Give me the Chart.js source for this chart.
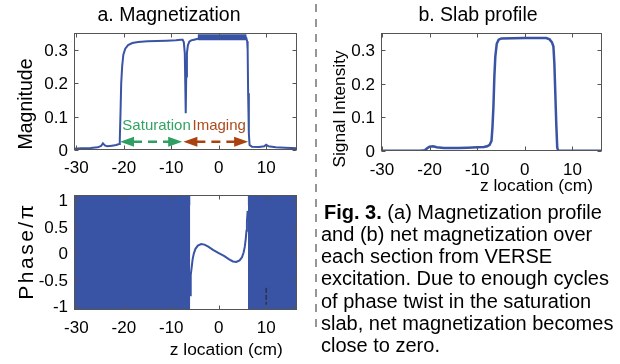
<!DOCTYPE html>
<html><head><meta charset="utf-8">
<script src="https://cdn.jsdelivr.net/npm/chart.js@4.4.0/dist/chart.umd.min.js"></script>
<style>
html,body{margin:0;padding:0;background:#fff;}
#wrap{position:relative;width:620px;height:364px;overflow:hidden;font-family:"Liberation Sans",Arial,Helvetica,sans-serif;color:#000;}
canvas{position:absolute;left:0;top:0;}
svg{position:absolute;left:0;top:0;}
.t{position:absolute;white-space:nowrap;line-height:1;}
.c{transform:translateX(-50%);}
.r{transform:translate(-50%,-50%) rotate(-90deg);}
#cap{position:absolute;left:321px;top:200.8px;font-size:20px;line-height:22.2px;white-space:nowrap;}
</style></head><body><div id="wrap">
<canvas id="cA" width="620" height="364"></canvas>
<canvas id="cP" width="620" height="364"></canvas>
<canvas id="cB" width="620" height="364"></canvas>
<svg width="620" height="364"><line x1="316" y1="4" x2="316" y2="334" stroke="#505050" stroke-width="1.2" stroke-dasharray="8 7"/></svg>
<div class="t c" style="left:169px;top:4.5px;font-size:19.5px;">a. Magnetization</div>
<div class="t c" style="left:478px;top:4.5px;font-size:19.5px;">b. Slab profile</div>
<div class="t c" style="left:536.5px;top:176.6px;font-size:17.4px;">z location (cm)</div>
<div class="t c" style="left:226.3px;top:340.6px;font-size:17.4px;">z location (cm)</div>
<div class="t r" style="left:25.5px;top:104px;font-size:19.5px;">Magnitude</div>
<div class="t r" style="left:25px;top:251px;font-size:21px;letter-spacing:2.5px;">Phase/π</div>
<div class="t r" style="left:340px;top:108.5px;font-size:17.3px;">Signal Intensity</div>
<div id="cap" style="text-indent:3px;"><b>Fig. 3.</b> (a) Magnetization profile<br>and (b) net magnetization over<br>each section from VERSE<br>excitation. Due to enough cycles<br>of phase twist in the saturation<br>slab, net magnetization becomes<br>close to zero.</div>
</div>
<script>
// ---- data ----
const xTicks = [-30, -20, -10, 0, 10];
const xTickLabels = ['-30', '-20', '-10', '0', '10'];
const magTicks = [0, 0.1, 0.2, 0.3];
const magTickLabels = ['0', '0.1', '0.2', '0.3'];
const phaseTicks = [-1, -0.5, 0, 0.5, 1];
const phaseTickLabels = ['-1', '-0.5', '0', '0.5', '1'];

// (a) magnitude profile
const magZ = [-30.5,-29,-27,-25.5,-24.8,-24.4,-24.0,-23.5,-22.5,-21.6,-21.0,-20.85,-20.7,-20.55,-20.35,-20.1,-19.7,-19.1,-18.2,-17,-15,-13,-11,-9,-8,-7.6,-7.35,-7.15,-7.05,-6.95,-6.85,-6.7,-6.5,-6.2,-5.8,-5.2,-4.6,-4.0,0,5.0,5.8,6.0,6.1,6.2,6.35,6.5,7.0,8.5,9.6,10.0,10.5,12,14,16.5];
const magVal = [0.004,0.005,0.006,0.008,0.012,0.020,0.014,0.011,0.013,0.015,0.018,0.03,0.11,0.20,0.25,0.285,0.303,0.314,0.320,0.323,0.325,0.326,0.327,0.328,0.330,0.330,0.322,0.29,0.20,0.11,0.22,0.29,0.313,0.324,0.328,0.330,0.332,0.334,0.335,0.336,0.336,0.325,0.30,0.17,0.05,0.015,0.010,0.009,0.011,0.016,0.011,0.008,0.007,0.005];
// noisy (thick) part of the imaging slab magnitude
const bandZ = [-4.4, 5.85];
const bandVal = [0.337, 0.337];

// (a) phase: rapidly wrapping regions (appear solid) and smooth central part
const satBlockZ = [-30.5, -6.0];
const outerBlockZ = [6.15, 16.5];
const wrapEnvelope = [1, 1];
const phaseZ = [-6.05,-5.95,-5.85,-5.7,-5.5,-5.25,-4.9,-4.4,-3.7,-3.0,-2.2,-1.2,0,1.2,2.2,3.0,3.7,4.4,4.9,5.25,5.5,5.7,5.85,5.95,6.1];
const phaseVal = [-0.8,-0.6,-0.42,-0.27,-0.12,-0.01,0.08,0.14,0.17,0.16,0.12,0.06,0,-0.06,-0.12,-0.16,-0.17,-0.14,-0.08,0.01,0.12,0.27,0.42,0.6,0.8];

// (b) slab profile
const slabZ = [-30.2,-22,-21.0,-20.5,-20.0,-19.3,-18.5,-17,-14,-12,-10,-8.6,-7.9,-7.4,-7.0,-6.8,-6.6,-6.4,-6.2,-5.9,-5.5,-4.9,0,4.5,5.2,5.7,6.0,6.2,6.4,6.6,6.8,7.0,16.2];
const slabVal = [0.001,0.001,0.002,0.008,0.013,0.014,0.011,0.009,0.009,0.010,0.011,0.012,0.014,0.018,0.03,0.07,0.13,0.22,0.28,0.318,0.330,0.334,0.335,0.335,0.331,0.322,0.31,0.26,0.17,0.08,0.01,0.001,0.001];

// ---- helpers ----
const BLUE = '#3a54a5';
const FONT = '"Liberation Sans", Arial, Helvetica, sans-serif';
const pts = (xs, ys) => xs.map((x, i) => ({x, y: ys[i]}));

function drawHead(ctx, x, y, dir, color) {
  const len = 14, hw = 5;
  ctx.beginPath();
  ctx.moveTo(x, y);
  ctx.lineTo(x - dir * len, y - hw);
  ctx.lineTo(x - dir * len, y + hw);
  ctx.closePath();
  ctx.fillStyle = color; ctx.fill();
}
function drawArrow(ctx, x1, x2, y, color) {
  ctx.save();
  ctx.strokeStyle = color; ctx.lineWidth = 2.5; ctx.setLineDash([9, 6]);
  ctx.beginPath(); ctx.moveTo(x1 + 13, y); ctx.lineTo(x2 - 13, y); ctx.stroke();
  ctx.restore();
  drawHead(ctx, x1, y, -1, color);
  drawHead(ctx, x2, y, 1, color);
}

function makeFrame(cfg) {
  return {
    id: 'frame_' + cfg.name,
    afterDatasetsDraw(chart) {
      const ctx = chart.ctx, a = chart.chartArea, xs = chart.scales.x, ys = chart.scales.y;
      ctx.save();
      (cfg.arrows || []).forEach(ar => drawArrow(ctx, xs.getPixelForValue(ar.from), xs.getPixelForValue(ar.to), ys.getPixelForValue(ar.y), ar.color));
      (cfg.labels || []).forEach(lb => {
        ctx.font = lb.font; ctx.fillStyle = lb.color; ctx.textAlign = 'center'; ctx.textBaseline = 'alphabetic';
        ctx.fillText(lb.text, xs.getPixelForValue(lb.x), ys.getPixelForValue(lb.y));
      });
      (cfg.marks || []).forEach(m => {
        ctx.save();
        ctx.strokeStyle = '#222'; ctx.lineWidth = 1; ctx.setLineDash([5, 2]);
        ctx.beginPath(); ctx.moveTo(xs.getPixelForValue(m.x), ys.getPixelForValue(m.y1));
        ctx.lineTo(xs.getPixelForValue(m.x), ys.getPixelForValue(m.y2)); ctx.stroke();
        ctx.restore();
      });
      // box
      const L = Math.round(a.left) + 0.5, R = Math.round(a.right) - 0.5, T = Math.round(a.top) + 0.5, B = Math.round(a.bottom) - 0.5;
      ctx.strokeStyle = '#555'; ctx.lineWidth = 1; ctx.setLineDash([]);
      ctx.strokeRect(L, T, R - L, B - T);
      const tl = 4;
      ctx.font = '17px ' + FONT; ctx.fillStyle = '#000'; ctx.textBaseline = 'alphabetic';
      cfg.xTicks.forEach((v, i) => {
        const px = Math.round(xs.getPixelForValue(v)) + 0.5;
        ctx.beginPath(); ctx.moveTo(px, B); ctx.lineTo(px, B - tl); ctx.moveTo(px, T); ctx.lineTo(px, T + tl); ctx.stroke();
        ctx.textAlign = 'center';
        ctx.fillText(cfg.xLabels[i], xs.getPixelForValue(v), a.bottom + cfg.xGap + 6.1);
      });
      cfg.yTicks.forEach((v, i) => {
        const py = Math.round(ys.getPixelForValue(v)) + 0.5;
        ctx.beginPath(); ctx.moveTo(L, py); ctx.lineTo(L + tl, py); ctx.moveTo(R, py); ctx.lineTo(R - tl, py); ctx.stroke();
        ctx.textAlign = 'right';
        ctx.fillText(cfg.yLabels[i], a.left - 6, ys.getPixelForValue(v) + 6.1);
      });
      ctx.restore();
    }
  };
}

function makeChart(id, area, xr, yr, datasets, cfg) {
  return new Chart(document.getElementById(id), {
    type: 'line',
    data: { datasets },
    options: {
      responsive: false, animation: false, devicePixelRatio: 1,
      layout: { padding: { left: area.l, top: area.t, right: 620 - area.r, bottom: 364 - area.b } },
      plugins: { legend: { display: false }, tooltip: { enabled: false }, title: { display: false } },
      elements: { point: { radius: 0 }, line: { tension: 0 } },
      scales: {
        x: { type: 'linear', min: xr[0], max: xr[1], display: false },
        y: { type: 'linear', min: yr[0], max: yr[1], display: false }
      }
    },
    plugins: [makeFrame(cfg)]
  });
}

// (a) top: magnitude
makeChart('cA', {l: 74, r: 297, t: 33, b: 150}, [-30.5, 16.5], [0, 0.35], [
  { data: pts(magZ, magVal), borderColor: BLUE, borderWidth: 2, fill: false },
  { data: pts(bandZ, bandVal), borderColor: BLUE, borderWidth: 6, fill: false }
], {
  name: 'A', xTicks, xLabels: xTickLabels, yTicks: magTicks, yLabels: magTickLabels, xGap: 16.5,
  arrows: [
    { from: -20.8, to: -7.7, y: 0.025, color: '#2f9f63' },
    { from: -7.45, to: 6.2, y: 0.025, color: '#a9420f' }
  ],
  labels: [
    { text: 'Saturation', x: -13.1, y: 0.06, color: '#33a363', font: '15px ' + FONT },
    { text: 'Imaging', x: 0.1, y: 0.06, color: '#ad4a1c', font: '15px ' + FONT }
  ]
});

// (a) bottom: phase
makeChart('cP', {l: 74, r: 297, t: 195, b: 310}, [-30.5, 16.5], [-1.08, 1.1], [
  { data: pts(satBlockZ, wrapEnvelope), borderColor: BLUE, backgroundColor: BLUE, borderWidth: 10, fill: 'start', clip: 0 },
  { data: pts(outerBlockZ, wrapEnvelope), borderColor: BLUE, backgroundColor: BLUE, borderWidth: 10, fill: 'start', clip: 0 },
  { data: pts(phaseZ, phaseVal), borderColor: BLUE, borderWidth: 2, fill: false, clip: 0 }
], {
  name: 'P', xTicks, xLabels: xTickLabels, yTicks: phaseTicks, yLabels: phaseTickLabels, xGap: 16.5,
  marks: [{ x: 10, y1: -0.66, y2: -0.98 }]
});

// (b) slab profile
makeChart('cB', {l: 381, r: 602, t: 33, b: 151}, [-30.2, 16.2], [0, 0.35], [
  { data: pts(slabZ, slabVal), borderColor: BLUE, borderWidth: 2.5, fill: false }
], {
  name: 'B', xTicks, xLabels: xTickLabels, yTicks: magTicks, yLabels: magTickLabels, xGap: 17.5
});
</script>
</body></html>
